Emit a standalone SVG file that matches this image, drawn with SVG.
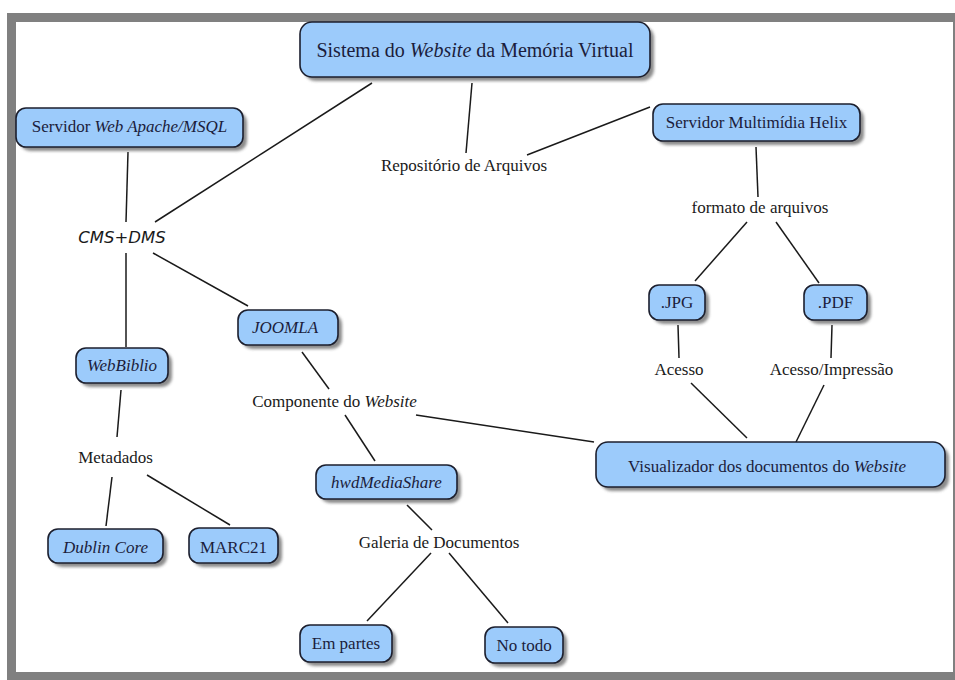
<svg xmlns="http://www.w3.org/2000/svg" width="955" height="680" viewBox="0 0 955 680">
<defs>
<filter id="sh" x="-10%" y="-20%" width="130%" height="160%"><feGaussianBlur stdDeviation="1.5"/></filter>
</defs>
<style>
.bg{fill:#808080}
.inner{fill:#ffffff}
.box{fill:#9ccbfb;stroke:#1c1f2e;stroke-width:1.6}
.shadow{fill:#6e6e6e;opacity:0.8;filter:url(#sh)}
.nt{font-family:"Liberation Serif","Times New Roman",serif;font-size:17px;fill:#1b1d3c;text-anchor:middle}
.lt{font-family:"Liberation Serif","Times New Roman",serif;font-size:17px;fill:#1a1a1a;text-anchor:middle}
.it{font-style:italic}
.title{font-size:20px}
.cms{font-family:"DejaVu Sans",Verdana,sans-serif;font-style:italic;font-size:16.5px;fill:#1a1a1a;text-anchor:middle}
.conn line{stroke:#1a1a1a;stroke-width:1.5}
</style>
<rect class="bg" x="7" y="13" width="948" height="667"/>
<rect class="inner" x="16" y="22" width="937" height="650"/>

<g id="connectors" class="conn">
<line x1="128" y1="152" x2="126" y2="222"/>
<line x1="155" y1="222" x2="372" y2="83"/>
<line x1="126" y1="253" x2="126" y2="347"/>
<line x1="153" y1="253" x2="248" y2="306"/>
<line x1="302" y1="352" x2="329" y2="389"/>
<line x1="416" y1="415" x2="594" y2="442"/>
<line x1="345" y1="415" x2="375" y2="461"/>
<line x1="407" y1="505" x2="432" y2="530"/>
<line x1="431" y1="553" x2="367" y2="621"/>
<line x1="449" y1="553" x2="508" y2="623"/>
<line x1="121" y1="390" x2="117" y2="437"/>
<line x1="112" y1="477" x2="106" y2="526"/>
<line x1="147" y1="475" x2="230" y2="525"/>
<line x1="472" y1="83" x2="466" y2="153"/>
<line x1="527" y1="155" x2="650" y2="107"/>
<line x1="756" y1="147" x2="758" y2="197"/>
<line x1="747" y1="222" x2="695" y2="281"/>
<line x1="776" y1="222" x2="819" y2="283"/>
<line x1="678" y1="325" x2="679" y2="358"/>
<line x1="832" y1="325" x2="831" y2="358"/>
<line x1="691" y1="383" x2="747" y2="438"/>
<line x1="824" y1="385" x2="796" y2="442"/>
</g>

<g id="n-title">
<rect class="shadow" x="304" y="26" width="350" height="55" rx="12"/>
<rect class="box" x="300" y="22" width="350" height="55" rx="12"/>
<text class="nt title" x="475" y="57">Sistema do <tspan class="it">Website</tspan>  da Memória Virtual</text>
</g>

<g id="n-apache">
<rect class="shadow" x="20" y="112" width="227" height="39" rx="10"/>
<rect class="box" x="16" y="108" width="227" height="39" rx="10"/>
<text class="nt" x="129.5" y="132">Servidor <tspan class="it">Web Apache/MSQL</tspan></text>
</g>

<g id="n-cms">
<text class="cms" x="122" y="243">CMS+DMS</text>
</g>

<g id="n-webbiblio">
<rect class="shadow" x="80" y="352" width="92" height="35" rx="10"/>
<rect class="box" x="76" y="348" width="92" height="35" rx="10"/>
<text class="nt it" x="122" y="371">WebBiblio</text>
</g>

<g id="n-joomla">
<rect class="shadow" x="242" y="314" width="100" height="35" rx="10"/>
<rect class="box" x="238" y="310" width="100" height="35" rx="10"/>
<text class="nt it" x="285" y="333">JOOMLA</text>
</g>

<g id="n-componente">
<text class="lt" x="334.5" y="407">Componente do <tspan class="it">Website</tspan></text>
</g>

<g id="n-hwd">
<rect class="shadow" x="320" y="469" width="141" height="34" rx="10"/>
<rect class="box" x="316" y="465" width="141" height="34" rx="10"/>
<text class="nt it" x="386.5" y="488">hwdMediaShare</text>
</g>

<g id="n-galeria">
<text class="lt" x="439" y="548">Galeria de Documentos</text>
</g>

<g id="n-empartes">
<rect class="shadow" x="304" y="629" width="92" height="37" rx="10"/>
<rect class="box" x="300" y="625" width="92" height="37" rx="10"/>
<text class="nt" x="346" y="649">Em partes</text>
</g>

<g id="n-notodo">
<rect class="shadow" x="489" y="631" width="78" height="36" rx="10"/>
<rect class="box" x="485" y="627" width="78" height="36" rx="10"/>
<text class="nt" x="524" y="651">No todo</text>
</g>

<g id="n-metadados">
<text class="lt" x="115.5" y="463">Metadados</text>
</g>

<g id="n-dublin">
<rect class="shadow" x="52" y="533" width="115" height="34" rx="10"/>
<rect class="box" x="48" y="529" width="115" height="34" rx="10"/>
<text class="nt it" x="105.5" y="553">Dublin Core</text>
</g>

<g id="n-marc">
<rect class="shadow" x="193" y="532" width="89" height="35" rx="10"/>
<rect class="box" x="189" y="528" width="89" height="35" rx="10"/>
<text class="nt" x="233.5" y="553">MARC21</text>
</g>

<g id="n-repositorio">
<text class="lt" x="464" y="171">Repositório de Arquivos</text>
</g>

<g id="n-helix">
<rect class="shadow" x="657" y="108" width="207" height="37" rx="10"/>
<rect class="box" x="653" y="104" width="207" height="37" rx="10"/>
<text class="nt" x="756.5" y="128">Servidor Multimídia Helix</text>
</g>

<g id="n-formato">
<text class="lt" x="760" y="213">formato de arquivos</text>
</g>

<g id="n-jpg">
<rect class="shadow" x="653" y="289" width="56" height="35" rx="10"/>
<rect class="box" x="649" y="285" width="56" height="35" rx="10"/>
<text class="nt" x="677" y="308">.JPG</text>
</g>

<g id="n-pdf">
<rect class="shadow" x="808" y="289" width="63" height="35" rx="10"/>
<rect class="box" x="804" y="285" width="63" height="35" rx="10"/>
<text class="nt" x="835.5" y="308">.PDF</text>
</g>

<g id="n-acesso">
<text class="lt" x="679" y="375">Acesso</text>
</g>

<g id="n-acessoimp">
<text class="lt" x="831.5" y="375">Acesso/Impressão</text>
</g>

<g id="n-visualizador">
<rect class="shadow" x="600" y="446" width="349" height="45" rx="12"/>
<rect class="box" x="596" y="442" width="349" height="45" rx="12"/>
<text class="nt" x="767" y="472">Visualizador dos documentos do <tspan class="it">Website</tspan></text>
</g>
</svg>
